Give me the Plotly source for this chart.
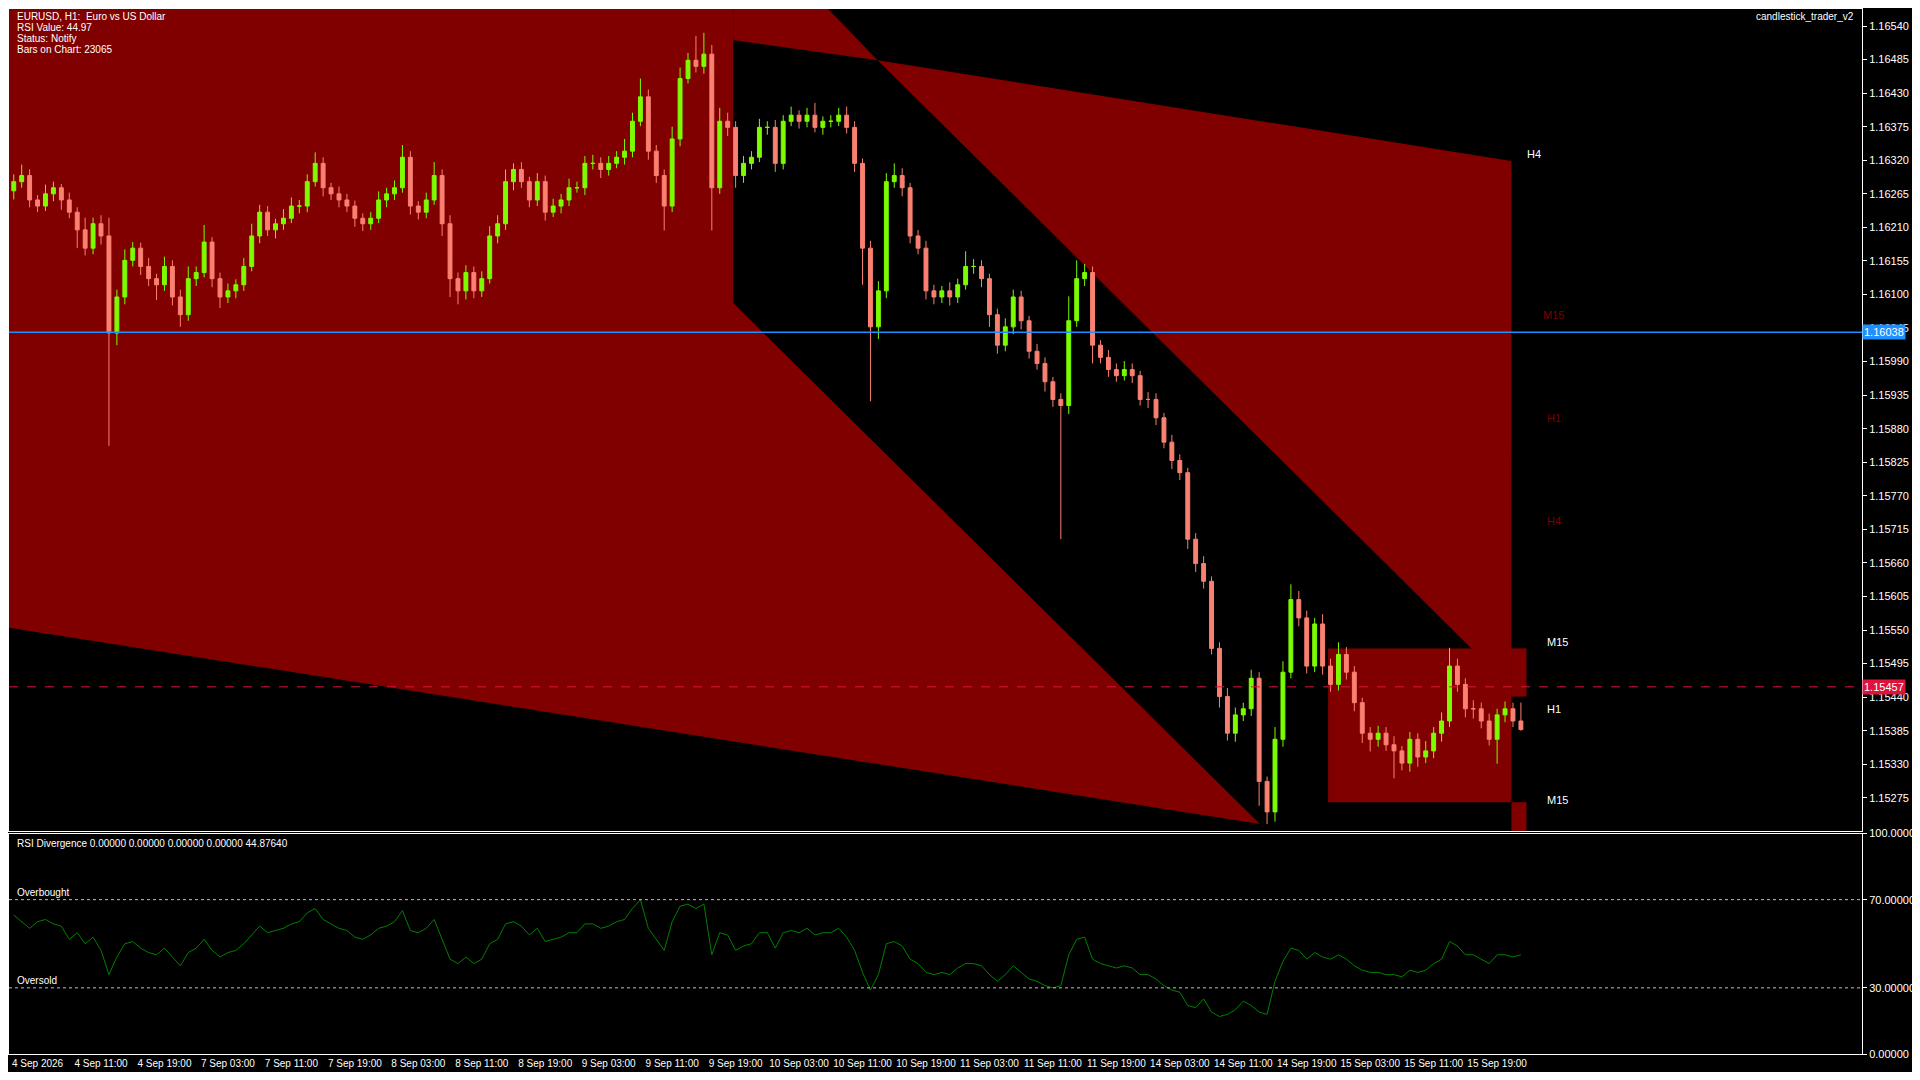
"""EURUSD H1 chart with zones and RSI pane, MT5 style."""

import plotly.graph_objects as go

# ---- data ---------------------------------------------------------------
first_open = 1.16270
closes = [
    1.16285, 1.16295, 1.16255, 1.16245, 1.16265, 1.16275, 1.16255, 1.16235, 1.16206, 1.16176,
    1.16216, 1.16196, 1.16037, 1.16096, 1.16156, 1.16176, 1.16146, 1.16126, 1.16116, 1.16146,
    1.16096, 1.16067, 1.16126, 1.16136, 1.16186, 1.16126, 1.16096, 1.16106, 1.16116, 1.16146,
    1.16196, 1.16235, 1.16206, 1.16216, 1.16225, 1.16245, 1.16245, 1.16285, 1.16315, 1.16275,
    1.16265, 1.16255, 1.16245, 1.16225, 1.16216, 1.16225, 1.16255, 1.16265, 1.16275, 1.16325,
    1.16245, 1.16235, 1.16255, 1.16295, 1.16216, 1.16126, 1.16106, 1.16136, 1.16106, 1.16126,
    1.16196, 1.16216, 1.16285, 1.16305, 1.16285, 1.16255, 1.16285, 1.16235, 1.16245, 1.16255,
    1.16275, 1.16275, 1.16315, 1.16315, 1.16305, 1.16315, 1.16325, 1.16335, 1.16384, 1.16424,
    1.16335, 1.16295, 1.16245, 1.16355, 1.16454, 1.16484, 1.16474, 1.16494, 1.16275, 1.16384,
    1.16374, 1.16295, 1.16315, 1.16325, 1.16374, 1.16374, 1.16315, 1.16384, 1.16394, 1.16384,
    1.16394, 1.16374, 1.16384, 1.16384, 1.16394, 1.16374, 1.16315, 1.16176, 1.16047, 1.16106,
    1.16285, 1.16295, 1.16275, 1.16196, 1.16176, 1.16106, 1.16096, 1.16106, 1.16096, 1.16116,
    1.16146, 1.16146, 1.16126, 1.16067, 1.16017, 1.16047, 1.16096, 1.16057, 1.16007, 1.15987,
    1.15957, 1.15928, 1.15918, 1.16057, 1.16126, 1.16136, 1.16017, 1.15997, 1.15977, 1.15967,
    1.15977, 1.15967, 1.15928, 1.15928, 1.15898, 1.15858, 1.15828, 1.15808, 1.15699, 1.15659,
    1.15630, 1.15520, 1.15441, 1.15381, 1.15411, 1.15421, 1.15471, 1.15302, 1.15252, 1.15371,
    1.15481, 1.15600, 1.15570, 1.15491, 1.15560, 1.15491, 1.15461, 1.15510, 1.15481, 1.15431,
    1.15381, 1.15371, 1.15381, 1.15362, 1.15352, 1.15332, 1.15371, 1.15342, 1.15352, 1.15381,
    1.15401, 1.15491, 1.15461, 1.15421, 1.15421, 1.15401, 1.15371, 1.15411, 1.15421, 1.15401,
    1.15387,
]
# wick lengths in points (1e-5)
wick_up = [
    12, 18, 10, 8, 15, 10, 6, 12, 8, 20, 10, 14, 30, 12, 18, 10, 9, 14, 8, 16,
    10, 12, 20, 10, 28, 8, 10, 12, 9, 14, 20, 12, 10, 8, 15, 14, 10, 12, 18, 10,
    8, 12, 10, 9, 8, 10, 14, 10, 12, 20, 10, 8, 12, 22, 10, 14, 10, 12, 10, 12,
    16, 14, 20, 10, 12, 8, 14, 10, 12, 10, 15, 10, 12, 14, 10, 12, 10, 20, 14, 30,
    12, 10, 10, 20, 18, 12, 40, 35, 15, 22, 14, 10, 12, 10, 14, 10, 12, 10, 14, 8,
    12, 20, 8, 10, 12, 14, 10, 8, 12, 16, 14, 20, 12, 8, 10, 12, 10, 8, 14, 10,
    25, 12, 10, 8, 10, 14, 12, 10, 8, 12, 10, 8, 10, 40, 30, 14, 10, 8, 12, 10,
    14, 10, 8, 12, 10, 8, 12, 10, 8, 10, 12, 8, 10, 14, 12, 10, 14, 10, 8, 20,
    18, 25, 14, 12, 10, 16, 12, 20, 12, 10, 8, 10, 12, 10, 14, 8, 12, 10, 16, 10,
    14, 30, 12, 10, 14, 10, 12, 10, 12, 10, 30,
]
wick_dn = [
    14, 10, 12, 10, 8, 12, 16, 10, 30, 12, 10, 14, 185, 20, 12, 10, 14, 12, 25, 10,
    14, 20, 10, 12, 8, 14, 18, 10, 12, 10, 8, 12, 10, 14, 10, 8, 12, 10, 8, 14,
    10, 12, 10, 14, 12, 10, 8, 12, 10, 8, 14, 12, 10, 8, 20, 30, 22, 14, 12, 10,
    8, 12, 10, 14, 10, 12, 10, 14, 8, 12, 10, 8, 12, 10, 14, 10, 8, 12, 10, 8,
    14, 12, 40, 10, 12, 8, 10, 12, 70, 10, 14, 20, 12, 10, 8, 12, 14, 10, 8, 12,
    10, 8, 12, 10, 8, 10, 14, 60, 122, 20, 12, 10, 14, 12, 10, 14, 12, 10, 14, 10,
    8, 12, 14, 20, 14, 10, 12, 14, 12, 10, 16, 12, 219, 14, 10, 12, 30, 10, 12, 10,
    8, 12, 10, 14, 12, 10, 14, 12, 16, 14, 12, 10, 18, 12, 14, 10, 12, 40, 20, 16,
    12, 10, 14, 12, 10, 14, 12, 10, 12, 14, 16, 20, 12, 10, 45, 12, 14, 16, 10, 12,
    14, 10, 12, 14, 16, 12, 10, 40, 12, 10, 2,
]
rsi = [
    63, 60, 57, 60, 61, 59, 58, 52, 55, 50, 53, 47, 36, 44, 50, 51, 48, 46, 45, 48,
    44, 40, 46, 48, 52, 47, 44, 46, 47, 50, 54, 58, 55, 56, 57, 59, 60, 64, 66, 61,
    59, 57, 56, 53, 52, 54, 57, 58, 60, 65, 56, 55, 57, 61, 52, 43, 41, 44, 41, 43,
    50, 52, 59, 60, 58, 54, 57, 51, 52, 53, 55, 55, 59, 59, 57, 58, 60, 61, 66, 70,
    57, 52, 47, 60, 67, 68, 66, 68, 45, 55, 54, 47, 49, 50, 55, 55, 48, 55, 56, 55,
    57, 54, 55, 55, 57, 53, 47, 37, 29, 36, 50, 51, 49, 43, 41, 37, 36, 37, 36, 39,
    41, 41, 40, 36, 33, 36, 40, 37, 34, 33, 31, 30, 31, 45, 52, 53, 43, 41, 40, 39,
    40, 39, 36, 36, 34, 31, 29, 28, 22, 21, 25, 19, 17, 18, 20, 24, 22, 19, 18, 33,
    42, 48, 47, 43, 46, 44, 43, 45, 43, 40, 38, 37, 37, 36, 36, 35, 38, 37, 38, 41,
    43, 51, 49, 45, 45, 43, 41, 45, 45, 44, 45,
]
tick_labels = [
    "4 Sep 2026", "4 Sep 11:00", "4 Sep 19:00", "7 Sep 03:00", "7 Sep 11:00", "7 Sep 19:00",
    "8 Sep 03:00", "8 Sep 11:00", "8 Sep 19:00", "9 Sep 03:00", "9 Sep 11:00", "9 Sep 19:00",
    "10 Sep 03:00", "10 Sep 11:00", "10 Sep 19:00", "11 Sep 03:00", "11 Sep 11:00", "11 Sep 19:00",
    "14 Sep 03:00", "14 Sep 11:00", "14 Sep 19:00", "15 Sep 03:00", "15 Sep 11:00", "15 Sep 19:00",
]
price_ticks = [1.16540, 1.16485, 1.16430, 1.16375, 1.16320, 1.16265, 1.16210, 1.16155, 1.16100,
               1.16045, 1.15990, 1.15935, 1.15880, 1.15825, 1.15770, 1.15715, 1.15660, 1.15605,
               1.15550, 1.15495, 1.15440, 1.15385, 1.15330, 1.15275]

# zone polygons (bar index, price)
zone_left_x = [-0.6, 90.7, 90.7, 157.1, -0.6]
zone_left_y = [1.16573, 1.16573, 1.16086, 1.15232, 1.15554]
zone_top_x = [90.7, 102.3, 108.9, 90.7]
zone_top_y = [1.16573, 1.16573, 1.16484, 1.16517]
zone_right_x = [108.9, 188.8, 188.8]
zone_right_y = [1.16484, 1.16319, 1.15455]
zone_box_x = [165.7, 188.8, 188.8, 165.7]
zone_box_y = [1.15520, 1.15520, 1.15268, 1.15268]
strip_hi_x = [188.8, 190.7, 190.7, 188.8]
strip_hi_y = [1.15520, 1.15520, 1.15441, 1.15441]
strip_lo_x = [188.8, 190.7, 190.7, 188.8]
strip_lo_y = [1.15268, 1.15268, 1.15220, 1.15220]

bid_price = 1.16038
ask_price = 1.15457
tf_labels = [  # (bar, price, text, colour)
    (190.5, 1.16330, "H4", "white"),
    (192.5, 1.16067, "M15", "#7a0000"),
    (193.0, 1.15898, "H1", "#7a0000"),
    (193.0, 1.15729, "H4", "#7a0000"),
    (193.0, 1.15530, "M15", "white"),
    (193.0, 1.15421, "H1", "white"),
    (193.0, 1.15272, "M15", "white"),
]

# ---- figure ------------------------------------------------------------
ZONE = "#800000"
FONT = "Liberation Sans"
bars = list(range(len(closes)))
opens = [first_open] + closes[:-1]
highs = [max(o, c) + w / 1e5 for o, c, w in zip(opens, closes, wick_up)]
lows = [min(o, c) - w / 1e5 for o, c, w in zip(opens, closes, wick_dn)]

fig = go.Figure()

# zones as shapes below the candles
for xs, ys in [(zone_left_x, zone_left_y), (zone_top_x, zone_top_y),
               (zone_right_x, zone_right_y), (zone_box_x, zone_box_y),
               (strip_hi_x, strip_hi_y), (strip_lo_x, strip_lo_y)]:
    path = "M " + " L ".join(f"{x},{y}" for x, y in zip(xs, ys)) + " Z"
    fig.add_shape(type="path", path=path, xref="x", yref="y", fillcolor=ZONE,
                  line={"width": 0}, layer="below")

fig.add_trace(go.Candlestick(
    x=bars, open=opens, high=highs, low=lows, close=closes,
    increasing={"line": {"color": "#7CFC00", "width": 1}, "fillcolor": "#7CFC00"},
    decreasing={"line": {"color": "#FA8072", "width": 1}, "fillcolor": "#FA8072"},
    whiskerwidth=0, showlegend=False,
))

fig.add_trace(go.Scatter(x=bars, y=rsi, mode="lines", line={"color": "#008000", "width": 1},
                         xaxis="x2", yaxis="y2", showlegend=False))

fig.add_hline(y=bid_price, line={"color": "#1E90FF", "width": 1.5})
fig.add_hline(y=ask_price, line={"color": "#DC143C", "width": 1, "dash": "dash"})
for lvl in (70, 30):
    fig.add_shape(type="line", xref="x2 domain", yref="y2", x0=0, x1=1, y0=lvl, y1=lvl,
                  line={"color": "#c0c0c0", "width": 1, "dash": "dot"})

for bx, py, txt, col in tf_labels:
    fig.add_annotation(x=bx, y=py, text=txt, showarrow=False, xanchor="left",
                       font={"color": col, "size": 11, "family": FONT})

for py, txt, bg in [(bid_price, "1.16038", "#1E90FF"), (ask_price, "1.15457", "#DC143C")]:
    fig.add_annotation(x=1, xref="paper", y=py, yref="y", text=txt, showarrow=False,
                       xanchor="left", bgcolor=bg, borderpad=1,
                       font={"color": "white", "size": 11, "family": FONT})

header = ["EURUSD, H1:  Euro vs US Dollar", "RSI Value: 44.97", "Status: Notify",
          "Bars on Chart: 23065"]
for i, line in enumerate(header):
    fig.add_annotation(x=0.003, xref="paper", y=1 - i * 0.0105, yref="paper", text=line,
                       showarrow=False, xanchor="left", yanchor="top",
                       font={"color": "white", "size": 10, "family": FONT})
fig.add_annotation(x=0.997, xref="paper", y=1, yref="paper", text="candlestick_trader_v2",
                   showarrow=False, xanchor="right", yanchor="top",
                   font={"color": "white", "size": 10, "family": FONT})
fig.add_annotation(x=0.003, xref="paper", y=0.209, yref="paper",
                   text="RSI Divergence 0.00000 0.00000 0.00000 0.00000 44.87640",
                   showarrow=False, xanchor="left", yanchor="top",
                   font={"color": "white", "size": 10, "family": FONT})
for lvl, txt in [(70, "Overbought"), (30, "Oversold")]:
    fig.add_annotation(x=0.003, xref="paper", y=lvl, yref="y2", text=txt, showarrow=False,
                       xanchor="left", yanchor="bottom",
                       font={"color": "white", "size": 10, "family": FONT})

axis_common = {"showgrid": False, "zeroline": False, "showline": True, "linecolor": "white",
               "mirror": True, "automargin": False,
               "tickfont": {"color": "white", "size": 11, "family": FONT}}
fig.update_layout(
    width=1904, height=1064,
    paper_bgcolor="black", plot_bgcolor="black",
    margin={"l": 1, "r": 50, "t": 1, "b": 18, "autoexpand": False},
    xaxis={**axis_common, "range": [-0.6, 233], "domain": [0, 1], "anchor": "y",
           "showticklabels": False, "rangeslider": {"visible": False}},
    yaxis={**axis_common, "range": [1.15220, 1.16568], "domain": [0.213, 1], "side": "right",
           "tickvals": price_ticks, "tickformat": ".5f", "ticks": "outside", "ticklen": 4,
           "tickcolor": "white"},
    xaxis2={**axis_common, "range": [-0.6, 233], "domain": [0, 1], "anchor": "y2",
            "tickvals": [i * 8 + 3 for i in range(len(tick_labels))], "ticktext": tick_labels,
            "tickangle": 0, "tickfont": {"color": "white", "size": 10, "family": FONT}},
    yaxis2={**axis_common, "range": [0, 100], "domain": [0, 0.211], "side": "right",
            "anchor": "x2", "tickvals": [0, 30, 70, 100], "tickformat": ".5f",
            "ticks": "outside", "ticklen": 4, "tickcolor": "white"},
)

fig.write_html("out.html")
